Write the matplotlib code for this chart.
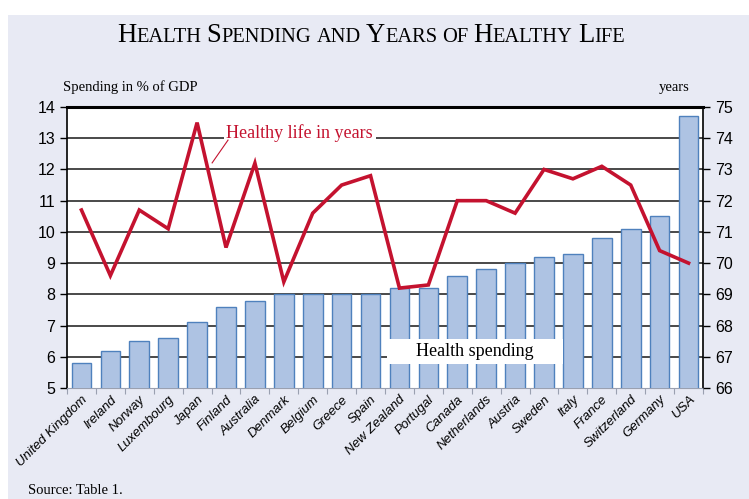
import matplotlib.pyplot as plt
from matplotlib.patches import Rectangle

countries = ['United Kingdom', 'Ireland', 'Norway', 'Luxembourg', 'Japan', 'Finland',
             'Australia', 'Denmark', 'Belgium', 'Greece', 'Spain', 'New Zealand',
             'Portugal', 'Canada', 'Netherlands', 'Austria', 'Sweden', 'Italy',
             'France', 'Switzerland', 'Germany', 'USA']
spending = [5.8, 6.2, 6.5, 6.6, 7.1, 7.6, 7.8, 8.0, 8.0, 8.0, 8.0, 8.2,
            8.2, 8.6, 8.8, 9.0, 9.2, 9.3, 9.8, 10.1, 10.5, 13.7]
healthy_years = [71.7, 69.6, 71.7, 71.1, 74.5, 70.5, 73.2, 69.4, 71.6, 72.5, 72.8, 69.2,
                 69.3, 72.0, 72.0, 71.6, 73.0, 72.7, 73.1, 72.5, 70.4, 70.0]
left_ticks = list(range(5, 15))
right_ticks = list(range(66, 76))

BG = '#E8EAF4'
RED = '#C4122F'
serif = ['Liberation Serif', 'DejaVu Serif']
sans = ['Liberation Sans', 'DejaVu Sans']

fig = plt.figure(figsize=(7.49, 4.99), dpi=100)
fig.patches.append(Rectangle((8 / 749, 0), 1, 1 - 15 / 499, transform=fig.transFigure,
                             facecolor=BG, edgecolor='none', zorder=-10))

ax = fig.add_axes([67 / 749, 1 - 388 / 499, (703 - 67) / 749, (388 - 107) / 499])
ax.set_facecolor('white')
x = list(range(len(countries)))
ax.bar(x, spending, width=0.68, color='#AEC3E3', edgecolor='#4F81BD', linewidth=1.0, zorder=3)
ax.set_xlim(-0.5, len(countries) - 0.5)
ax.set_ylim(5, 14)
ax.set_yticks(left_ticks)
for t in left_ticks[1:-1]:
    ax.axhline(t, color='#3a3a3a', linewidth=1.3, zorder=1)

ax.set_xticks(x)
ax.set_xticklabels(countries, rotation=45, ha='right', rotation_mode='anchor',
                   fontstyle='italic', fontsize=9.5, family=sans)
ax.tick_params(axis='x', which='major', length=0, pad=4)
ax.set_xticks([i - 0.5 for i in range(len(countries) + 1)], minor=True)
ax.tick_params(axis='x', which='minor', length=4, color='#9aa0b0', width=0.8)
ax.tick_params(axis='y', length=5, width=1, labelsize=11.5)
for lab in ax.get_yticklabels():
    lab.set_family(sans)

for side in ['left', 'right']:
    ax.spines[side].set_color('black')
    ax.spines[side].set_linewidth(1.2)
ax.spines['top'].set_linewidth(2.2)
ax.spines['bottom'].set_color('#9aa0b0')
ax.spines['bottom'].set_linewidth(0.8)

# white box behind the "Health spending" label
ax.add_patch(Rectangle((10.57, 5.77), 6.09, 0.8, facecolor='white', edgecolor='none', zorder=4))
ax.text(13.62, 6.17, 'Health spending', fontsize=13, family=serif, ha='center', va='center',
        zorder=6)

ax2 = ax.twinx()
ax2.plot(x, healthy_years, color=RED, linewidth=2.6, zorder=5, solid_joinstyle='miter')
ax2.set_ylim(66, 75)
ax2.set_yticks(right_ticks)
ax2.tick_params(axis='y', length=5, width=1, labelsize=11.5)
for lab in ax2.get_yticklabels():
    lab.set_family(sans)
for s in ax2.spines.values():
    s.set_visible(False)

ax2.text(7.55, 74.17, 'Healthy life in years', color=RED, fontsize=13, family=serif,
         ha='center', va='center', zorder=4,
         bbox=dict(facecolor='white', edgecolor='none', pad=2))
ax2.plot([4.52, 5.07], [73.21, 73.94], color=RED, linewidth=0.8, zorder=6)

fig.text(63 / 749, 1 - 87 / 499, 'Spending in % of GDP', fontsize=10.5, family=serif,
         ha='left', va='center')
fig.text(690 / 749, 1 - 87 / 499, 'years', fontsize=10.5, family=serif, ha='right', va='center')
fig.text(28 / 749, 1 - 490 / 499, 'Source: Table 1.', fontsize=10.5, family=serif,
         ha='left', va='center')

# small caps title
title_words = ['Health', 'Spending', 'and', 'Years', 'of', 'Healthy', 'Life']
pieces = []
for i, w in enumerate(title_words):
    if w[0].isupper():
        pieces.append((w[0], 19.2))
        pieces.append((w[1:].upper(), 14.8))
    else:
        pieces.append((w.upper(), 14.8))
    if i < len(title_words) - 1:
        pieces.append((' ', 14.8))

renderer = fig.canvas.get_renderer()
texts = []
xpos = 0.0
for s, size in pieces:
    t = fig.text(xpos, 1 - 42 / 499, s, fontsize=size, family=serif, ha='left', va='baseline')
    w = t.get_window_extent(renderer).width / fig.bbox.width
    if s == ' ':
        w = size * 0.25 / 72 * fig.dpi / fig.bbox.width
    texts.append((t, xpos))
    xpos += w
start = 371 / 749 - xpos / 2
for t, xp in texts:
    t.set_x(start + xp)

fig.savefig('out.png', dpi=100)
